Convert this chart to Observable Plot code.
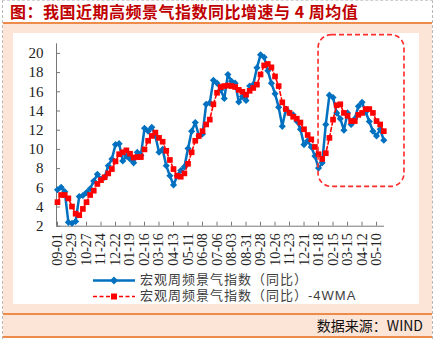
<!DOCTYPE html>
<html><head><meta charset="utf-8">
<script src="https://cdn.jsdelivr.net/npm/d3@7"></script>
<script src="https://cdn.jsdelivr.net/npm/@observablehq/plot@0.6"></script>
<style>
html,body{margin:0;padding:0;background:#fff;}
#page{position:relative;width:435px;height:340px;overflow:hidden;font-family:"Noto Sans CJK SC",sans-serif;}
#frame{position:absolute;left:2px;top:0;width:429px;height:338px;border-left:1px dashed #b8b8b8;border-right:1px dashed #b8b8b8;border-top:1px dashed #d0d0d0;}
#title{position:absolute;left:10px;top:0px;font-size:16px;font-weight:bold;color:#c00000;line-height:23px;letter-spacing:0.5px;white-space:nowrap;}
.rule{position:absolute;left:3px;width:429px;background:#ee8a4a;}
.pink{position:absolute;left:3px;width:429px;background:#fce4d6;}
#panel{position:absolute;left:13px;top:33px;width:406px;height:271px;background:#fff;}
#srctext{position:absolute;right:12px;top:315px;font-size:14px;line-height:21px;color:#111;white-space:nowrap;}
#chart{position:absolute;left:0;top:33px;}
#legend{position:absolute;left:92px;top:272px;font-family:"Liberation Sans","Noto Sans CJK SC",sans-serif;font-size:13px;line-height:16px;color:#404040;letter-spacing:1px;}
.row{display:flex;align-items:center;height:16px;line-height:16px;white-space:nowrap;}
.row svg{margin-right:4px;flex:none;}
</style>
</head>
<body>
<div id="page">
  <div class="pink" style="top:24px;height:289px;"></div>
  <div id="panel"></div>
  <div class="rule" style="top:22px;height:2px;"></div>
  <div class="rule" style="top:313px;height:2px;"></div>
  <div class="pink" style="top:315px;height:21px;"></div>
  <div class="rule" style="top:336px;height:1.5px;"></div>
  <div id="frame"></div>
  <div id="title"></div>
  <div id="chart"></div>
  <div id="legend"></div>
  <div id="srctext"></div>
</div>
<script>
const titleText = "图：我国近期高频景气指数同比增速与 4 周均值";
const sourceText = "数据来源：WIND";
const seriesNames = ["宏观周频景气指数（同比）", "宏观周频景气指数（同比）-4WMA"];
const tickLabels = ["09-01","09-29","10-27","11-24","12-22","01-19","02-16","03-16","04-13","05-11","06-08","07-06","08-03","08-31","09-28","10-26","11-23","12-21","01-18","02-15","03-15","04-12","05-10"];
const yTicks = [2,4,6,8,10,12,14,16,18,20];

// weekly index (同比), one value per week starting 09-01
const macro = [5.8,6.05,5.6,2.4,2.3,2.5,5.1,5.2,5.5,5.9,
  6.7,7.4,6.9,7.1,8.3,9.0,10.5,10.6,8.8,9.3,
  9.0,8.6,9.7,9.4,12.2,11.9,12.3,11.4,9.7,10.0,
  8.3,7.25,6.3,7.25,7.8,8.2,10.1,11.9,12.8,11.4,
  11.6,14.7,14.85,17.2,16.9,16.2,15.3,17.8,17.1,16.9,
  14.95,15.5,15.1,16.6,16.75,18.5,19.85,19.6,18.2,16.9,
  15.8,14.4,12.4,14.2,13.8,13.6,12.95,12.1,10.5,10.9,
  10.25,9.3,8.05,8.6,12.6,15.65,15.4,13.8,13.2,12.0,
  13.8,12.6,13.2,14.5,14.9,13.9,12.9,11.9,11.4,12.1,
  10.95];
// 4-week moving average
const macroMA = [4.5,5.25,5.25,4.9,4.05,3.3,3.15,3.8,4.5,5.25,
  5.7,6.4,6.8,7.1,7.5,7.95,8.75,9.5,9.7,9.9,
  9.55,9.15,9.2,9.2,10.0,10.9,11.4,11.75,11.2,10.8,
  9.85,8.9,7.95,7.25,7.15,7.5,8.5,9.7,10.9,11.4,
  11.9,12.6,13.1,14.7,15.9,16.5,16.6,16.65,16.6,16.5,
  16.2,16.0,15.7,16.1,16.4,16.75,17.8,18.75,18.9,18.55,
  17.6,16.6,14.9,14.2,13.8,13.4,13.2,12.8,12.1,11.5,
  11.05,10.25,9.5,9.0,9.6,11.2,13.1,14.6,14.7,13.8,
  13.5,12.95,12.95,13.6,13.8,14.2,14.2,13.8,12.95,12.6,
  11.9];
// highlighted region (week index from 01-18 onward, value range)
const highlight = [{fromWeek: 72, toWeek: 95.7, low: 6.1, high: 21.9}];

const blue = "#0070c0", red = "#ff0000";
const data = macro.map((v, i) => ({week: i, macro: v, ma: macroMA[i]}));
const tickWeeks = tickLabels.map((_, k) => k * 4);

document.getElementById("title").textContent = titleText;
document.getElementById("srctext").textContent = sourceText;

const chart = Plot.plot({
  width: 435, height: 240,
  marginTop: 10.3, marginBottom: 47.3, marginLeft: 56, marginRight: 51,
  style: {background: "transparent", fontFamily: "'Liberation Serif', 'Times New Roman', serif", color: "#222"},
  x: {domain: [0, 90], insetLeft: 1, insetRight: 0.7},
  y: {domain: [2, 21]},
  marks: [
    Plot.ruleX([2], {x: () => 0, y1: 2, y2: 21, dx: -1, stroke: "#777", strokeWidth: 1}),
    Plot.ruleY([2], {stroke: "#777", strokeWidth: 1}),
    Plot.axisY({ticks: yTicks, tickSize: -4, tickPadding: 17, fontSize: 15, stroke: "#777"}),
    Plot.axisX({ticks: tickWeeks, tickFormat: i => tickLabels[i / 4], tickRotate: -90, tickSize: -4, tickPadding: 11, fontSize: 14, stroke: "#777"}),
    Plot.line(data, {x: "week", y: "macro", stroke: blue, strokeWidth: 2.5}),
    Plot.dot(data, {x: "week", y: "macro", symbol: "diamond2", r: 3.2, fill: blue, stroke: null}),
    Plot.line(data, {x: "week", y: "ma", stroke: red, strokeWidth: 1.6, strokeDasharray: "4,2.5"}),
    Plot.dot(data, {x: "week", y: "ma", symbol: "square", r: 3.2, fill: red, stroke: null}),
    Plot.rect(highlight, {x1: "fromWeek", x2: "toWeek", y1: "low", y2: "high", rx: 13, fill: "none", stroke: "#ff2a2a", strokeWidth: 1.6, strokeDasharray: "5,3"})
  ]
});
document.getElementById("chart").appendChild(chart);

// legend
const legend = document.getElementById("legend");
seriesNames.forEach((name, k) => {
  const row = document.createElement("div");
  row.className = "row";
  const ns = "http://www.w3.org/2000/svg";
  const svg = document.createElementNS(ns, "svg");
  svg.setAttribute("width", 44); svg.setAttribute("height", 15);
  const ln = document.createElementNS(ns, "line");
  ln.setAttribute("x1", 1); ln.setAttribute("x2", 43); ln.setAttribute("y1", 7.5); ln.setAttribute("y2", 7.5);
  ln.setAttribute("stroke", k === 0 ? blue : red);
  ln.setAttribute("stroke-width", k === 0 ? 2.5 : 1.6);
  if (k === 1) ln.setAttribute("stroke-dasharray", "4,2.5");
  svg.appendChild(ln);
  const sym = document.createElementNS(ns, "path");
  sym.setAttribute("d", k === 0 ? "M22,3.5L26,7.5L22,11.5L18,7.5Z" : "M19,4.5H25V10.5H19Z");
  sym.setAttribute("fill", k === 0 ? blue : red);
  svg.appendChild(sym);
  row.appendChild(svg);
  const span = document.createElement("span");
  span.textContent = name;
  row.appendChild(span);
  legend.appendChild(row);
});
</script>
</body></html>
